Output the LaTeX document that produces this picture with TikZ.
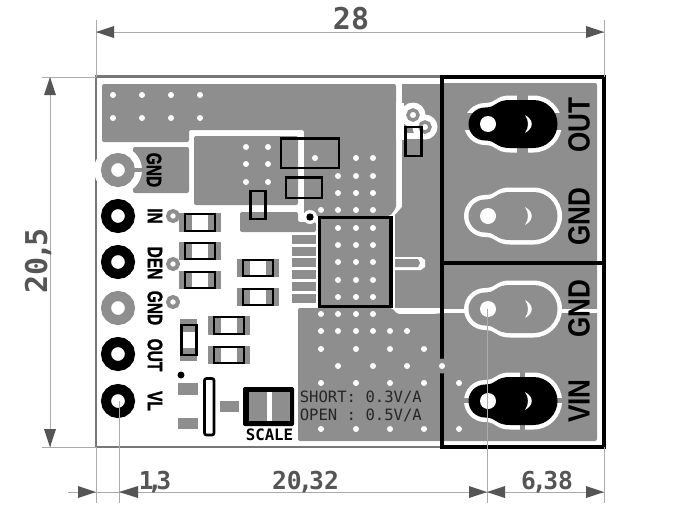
\documentclass[tikz,border=0pt]{standalone}
\usepackage{fontspec}
\usetikzlibrary{arrows.meta}
\newfontfamily\silksm[FakeStretch=.74,BoldFeatures={FakeBold=1.2}]{Liberation Sans}
\newfontfamily\silkbig[FakeStretch=.85]{Liberation Sans}
\newfontfamily\dimfont{DejaVu Sans Mono}
\definecolor{cu}{HTML}{8E8E8E}
\definecolor{dimtxt}{HTML}{555555}
\definecolor{dimln}{HTML}{ABABAB}
\definecolor{board}{HTML}{777777}
\tikzset{
  cuf/.style={fill=cu,draw=none},
  whf/.style={fill=white,draw=none},
  blk/.style={draw=black,line width=2pt,fill=none},
  pinlbl/.style={font=\silksm\bfseries\fontsize{15.7}{16}\selectfont,rotate=-90,inner sep=0pt,text=black},
  termlbl/.style={font=\silkbig\bfseries\fontsize{23}{24}\selectfont,rotate=90,inner sep=0pt,text=black},
  dimlbl/.style={font=\dimfont\bfseries\fontsize{#1}{#1}\selectfont,inner sep=0pt,text=dimtxt},
  dl/.style={draw=dimln,line width=.65pt},
  tip/.style={fill=dimtxt,draw=none},
  note/.style={font=\dimfont\fontsize{11.7}{12}\selectfont,inner sep=0pt,anchor=west,text=black!85}
}
% via
\newcommand{\vias}[2]{\foreach \vx in {#2} {\fill[white] (\vx,#1) circle[radius=3];}}
% oval terminal path
\newcommand{\ovalp}[2]{(485,#1-21+#2) .. controls (497,#1-21+#2) and (495,#1-28.5+#2) .. (510,#1-28.5+#2) -- (533.5,#1-28.5+#2) arc[start angle=-90,end angle=90,radius=28.5-#2] -- (510,#1+28.5-#2) .. controls (495,#1+28.5-#2) and (497,#1+21-#2) .. (485,#1+21-#2) arc[start angle=90,end angle=270,radius=19+2-#2] -- cycle}
\newcommand{\cresc}[1]{\fill[white] (525,#1-9) .. controls (534,#1-4) and (534,#1+4) .. (525,#1+9) .. controls (529,#1+3) and (529,#1-3) .. (525,#1-9) -- cycle; \fill[white] (488,#1) circle[radius=8];}
% horizontal resistor: black x1 y1 x2 y2
\newcommand{\resh}[4]{\fill[cu] (#1-6,#2-1) rectangle (#1+7,#4+1); \fill[cu] (#3-7,#2-1) rectangle (#3+6,#4+1); \draw[blk] (#1,#2) rectangle (#3,#4);}
\newcommand{\pinring}[3]{\draw[#3,line width=7.5pt] (#1,#2) circle[radius=12];}
\newcommand{\tpad}[2]{\draw[cu,line width=3pt] (#1,#2) circle[radius=5];}
\begin{document}
\begin{tikzpicture}[x=.75pt,y=-.75pt]
\useasboundingbox (0,0) rectangle (700,525);
\fill[white] (0,0) rectangle (700,525);

% pours
\fill[cu,rounded corners=1.5pt] (102,84) -- (396,84) -- (396,208) -- (390,216) -- (304,216) -- (304,130) -- (189,130) -- (189,142) -- (102,142) -- cycle;
\fill[cu,rounded corners=1.5pt] (194,136) -- (298,136) -- (298,205) -- (194,205) -- cycle;
\fill[cu,rounded corners=1.5pt] (240,212) -- (298,212) -- (298,222) -- (316,222) -- (316,232) -- (240,232) -- cycle;
\fill[white] (310,217) circle[radius=7];
\fill[black] (310,217) circle[radius=3.7];
% pins
\foreach \py in {235,247,258,270,282,294} {\fill[cu] (292,\py) rectangle (316,\py+8.5);}
% chip paddle
\fill[cu] (319,217) rectangle (392,307);
% right pour
\fill[cu] (402,84) -- (442,84) -- (442,314) -- (395,308) -- (395,215) -- (402,207) -- cycle;
\fill[white] (392,308) -- (442,308) -- (442,313) -- (392,313) -- cycle;
\fill[white] (404,103) -- (396,103) -- (396,140) -- (404,140) -- cycle;
\fill[white] (413,115) circle[radius=12.5];
\fill[white] (425,127) circle[radius=12.5];
\fill[white] (403,133) rectangle (424,139);
\draw[cu,line width=2.6pt] (413,115) circle[radius=5];
\draw[cu,line width=2.6pt] (425,127) circle[radius=5];
% stub
\fill[white] (395,257) -- (421,257) -- (425,260) -- (425,267) -- (421,270) -- (395,270) -- cycle;
\fill[cu] (395,259) -- (418,259) -- (420,263) -- (418,267) -- (395,267) -- cycle;
% bottom pour
\fill[cu,rounded corners=1.5pt] (298,308) -- (392,308) -- (397,314) -- (442,314) -- (442,441) -- (298,441) -- cycle;

% terminal copper
\fill[cu,rounded corners=1.5pt] (442,83) -- (597,83) -- (597,441) -- (442,441) -- cycle;
\fill[white] (442,308.5) rectangle (600,312.5);
% OUT
\fill[white] \ovalp{124}{0};
\fill[cu] (517,90) rectangle (528,158);
\fill[cu] (462,113) rectangle (566,130);
\fill[black] \ovalp{124}{4.5};
\cresc{124}
% GND upper
\fill[white] \ovalp{216}{0};
\fill[cu] \ovalp{216}{4.5};
\cresc{216}
% GND lower
\fill[white] \ovalp{309}{0};
\fill[cu] \ovalp{309}{4.5};
\cresc{309}
% VIN
\fill[white] \ovalp{401}{0};
\fill[cu] (520,368) rectangle (525,434);
\fill[cu] (462,398) rectangle (566,403);
\fill[black] \ovalp{401}{4.5};
\cresc{401}

% vias
\vias{95}{113,142,171,200}
\vias{118}{113,142,171,200}
\vias{147}{246,268}
\vias{164}{246,268}
\vias{182}{246,268}
\vias{158}{315,356,373}
\vias{176}{338,356,373}
\vias{193}{338,356,373}
\vias{210}{321,338,356,373}
\vias{228}{338,356,373}
\vias{245}{338,356,373}
\vias{262}{338,356,373}
\vias{280}{338,356,373}
\vias{297}{338,356,373}
\vias{314}{321,338,356,373}
\vias{331}{321,338,356,373,390,407}
\vias{349}{321,356,390,424}
\vias{366}{338,373,407}
\vias{383}{321,356,390,424,459}
\vias{429}{321,356,390,424,459}

% board outline
\draw[board,line width=1.9pt] (604,76.5) -- (96,76.5) -- (96,447) -- (604,447);

% GND pad with thermal
\fill[cu,rounded corners=1.5pt] (133,147) rectangle (189,193);
\fill[white] (118,170) circle[radius=24];
\fill[cu] (134,168) rectangle (146,172);
% left pins
\pinring{118}{170}{cu}
\pinring{118}{216}{black}
\pinring{118}{262}{black}
\pinring{118}{308}{cu}
\pinring{118}{354}{black}
\pinring{118}{401}{black}
\node[pinlbl] (lg1) at (154,170) {GND};
\node[pinlbl] (lin) at (155,216) {IN};
\node[pinlbl] (lden) at (155,263) {DEN};
\node[pinlbl] (lg2) at (155,308) {GND};
\node[pinlbl] (lout) at (155,355) {OUT};
\node[pinlbl] (lvl) at (155,401) {VL};

% test pads
\tpad{173}{216}
\tpad{173}{264}
\tpad{173}{302}

% resistors
\resh{185}{214}{215}{231}
\resh{185}{243}{215}{259}
\resh{185}{272}{215}{288}
\resh{243}{260}{273}{276}
\resh{243}{289}{273}{305}
\resh{214}{317}{244}{334}
\resh{214}{347}{244}{363}
\fill[cu] (180,319) rectangle (197,332);
\fill[cu] (180,348) rectangle (197,361);
\draw[blk] (181.5,325) rectangle (196.5,355);

% bottom-left parts
\fill[black] (181,375) circle[radius=3.5];
\fill[cu] (178,383) rectangle (198,395);
\fill[cu] (178,418) rectangle (198,429);
\fill[cu] (220,401) rectangle (239,412);
\draw[blk,rounded corners=1.5pt] (204.5,378.5) rectangle (214,435);
% scale
\fill[black,rounded corners=1.5pt] (243,387) rectangle (294,426);
\fill[white] (249,392) rectangle (290,421);
\fill[cu] (249,392) rectangle (267,421);
\fill[cu] (272,392) rectangle (290,421);
\node[font=\dimfont\bfseries\fontsize{11.8}{12}\selectfont,inner sep=0pt,text=black] (scale) at (269.5,435) {SCALE};
\node[note] (short) at (299.5,397.5) {SHORT: 0.3V/A};
\node[note] (open) at (299.5,415.5) {OPEN : 0.5V/A};

% silhouettes
\draw[blk] (281,138.5) rectangle (339,168);
\draw[blk] (286,177.5) rectangle (322,198);
\draw[blk] (250.5,191) rectangle (265.5,219);
\draw[blk] (405.5,127) rectangle (421.5,156);
\draw[black,line width=2.7pt] (319.5,217.5) rectangle (391,306.5);

% connector box
\draw[black,line width=2.7pt] (442,77) rectangle (604,447);
\draw[black,line width=2.7pt] (442,263) -- (604,263);
\fill[cu] (442,366) circle[radius=7.5];
\fill[white] (442,366) circle[radius=3];

\node[termlbl] (tout) at (579,125) {OUT};
\node[termlbl] (tg1) at (579,217) {GND};
\node[termlbl] (tg2) at (579,309) {GND};
\node[termlbl] (tvin) at (579,401) {VIN};

% dimensions
\draw[dl] (96,20) -- (96,77);
\draw[dl] (604,20) -- (604,77);
\draw[dl] (96,32) -- (604,32);
\fill[tip] (96,32) -- (114,26) -- (114,38) -- cycle;
\fill[tip] (604,32) -- (586,26) -- (586,38) -- cycle;
\node[dimlbl=22.5] (d28) at (351,19) {28};

\draw[dl] (42,77) -- (96,77);
\draw[dl] (42,447) -- (96,447);
\draw[dl] (50,77) -- (50,447);
\fill[tip] (50,77) -- (44,95) -- (56,95) -- cycle;
\fill[tip] (50,447) -- (44,429) -- (56,429) -- cycle;
\node[dimlbl=22.5,rotate=90] (d205) at (38,261) {20\kern-.12em,\kern-.12em5};

\draw[dl] (96,447) -- (96,503);
\draw[dl] (119,401) -- (119,503);
\draw[dl] (487,309) -- (487,503);
\draw[dl] (604,447) -- (604,503);
\draw[dl] (68,492) -- (604,492);
\fill[tip] (96,492) -- (78,486) -- (78,498) -- cycle;
\fill[tip] (119,492) -- (138,486) -- (138,498) -- cycle;
\fill[tip] (487,492) -- (469,486) -- (469,498) -- cycle;
\fill[tip] (487,492) -- (505,486) -- (505,498) -- cycle;
\fill[tip] (604,492) -- (586,486) -- (586,498) -- cycle;
\node[dimlbl=18.5] (d13) at (155,482.5) {1\kern-.25em,\kern-.25em3};
\node[dimlbl=18.5] (d2032) at (305.5,482.5) {20\kern-.15em,\kern-.15em32};
\node[dimlbl=18.5] (d638) at (547,482.5) {6\kern-.15em,\kern-.15em38};
\end{tikzpicture}
\end{document}
